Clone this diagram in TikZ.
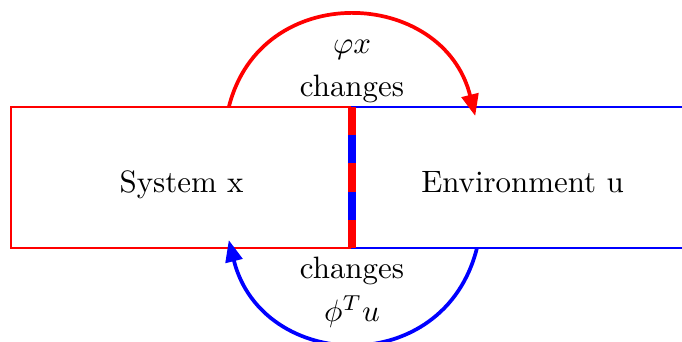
\documentclass[tikz,border=0pt]{standalone}
\usepackage{amsmath, amssymb}
\usepackage{tikz}
\usetikzlibrary{arrows.meta, positioning, calc}

\begin{document}
\begin{tikzpicture}[
  box/.style={draw=#1, semithick, minimum width=3.875cm, minimum height=1.6cm,
    text height=11.7pt, text depth=1.94pt, inner sep=0pt, outer sep=0pt},
  flow/.style={very thick, -{Triangle[length=7pt, width=5.5pt]}, looseness=1.4},
  lbl/.style={align=center}
]
\useasboundingbox (-4.0, -1.068) rectangle (3.75, 2.818);

% System and environment boxes
\node[box=red, anchor=south east] (sys) at (0, 0) {System x};
\node[box=blue, right=0pt of sys] (env) {Environment u};

% Boundary between them
\draw[red, line width=2.6pt] (sys.south east) -- (sys.north east);
\draw[blue, line width=2.6pt, dash pattern=on 0.32cm off 0.32cm, dash phase=0.32cm] (sys.south east) -- (sys.north east);

% Arc ends
\coordinate (topA) at ($(sys.north east)+(-1.4, 0)$);
\coordinate (topB) at ($(env.north west)+(1.4, -0.1)$);
\coordinate (botA) at ($(env.south west)+(1.42, 0)$);
\coordinate (botB) at ($(sys.south east)+(-1.4, 0.09)$);

% Exchange arrows
\draw[flow, red] (topA) to[out=76, in=104, looseness=1.37] (topB);
\draw[flow, blue] (botA) to[out=-104, in=-76] (botB);

% Labels
\node[lbl, anchor=south, inner sep=1.2pt] (phix) at (sys.north east) {$\varphi x$\\[2pt]changes};
\node[lbl, anchor=north, inner sep=2.6pt] (phiu) at (sys.south east) {changes\\[2pt]$\phi^T u$};
\end{tikzpicture}
\end{document}
